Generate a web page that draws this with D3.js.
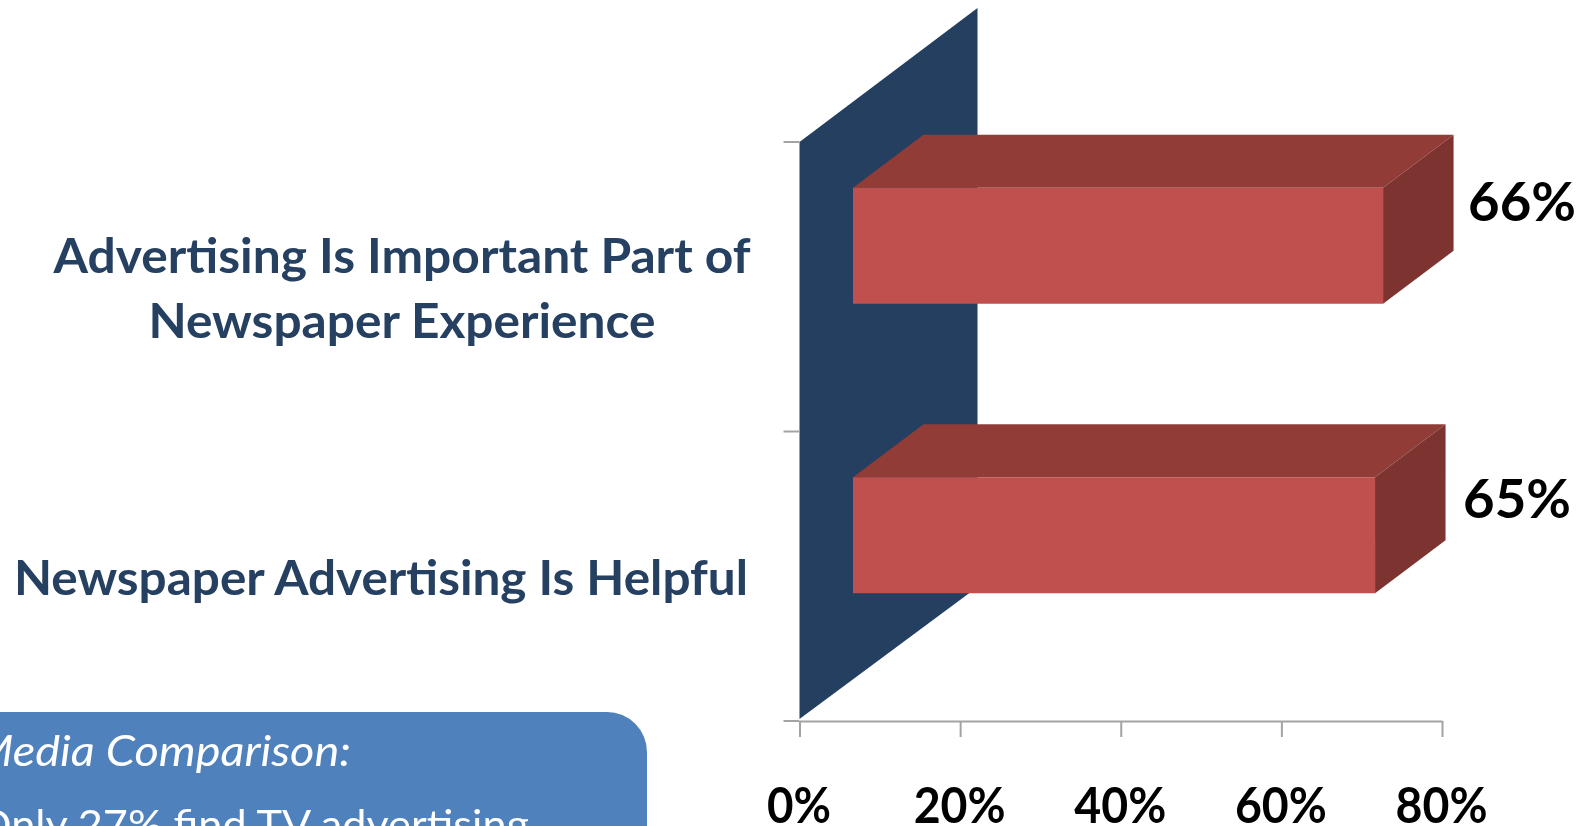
<!DOCTYPE html>
<html><head><meta charset="utf-8">
<script src="https://cdn.jsdelivr.net/npm/d3@7"></script>
<style>html,body{margin:0;padding:0;background:#fff;overflow:hidden}svg{display:block;filter:blur(.6px)}text{font-family:Lato,"Open Sans",sans-serif}</style>
</head><body><svg id="c" width="1587" height="826"></svg>
<script>
const categories = ["Advertising Is Important Part of|Newspaper Experience", "Newspaper Advertising Is Helpful"];
const values = [66, 65];
const xTickValues = [0, 20, 40, 60, 80];
const calloutLines = ["Media Comparison:", "Only 27% find TV advertising"];

const svg = d3.select("#c");
const x = d3.scaleLinear().domain([0, 80]).range([799.5, 1442]);
const y = d3.scaleBand().domain(categories).range([142, 721]);
const depthX = 70.5, depthY = 53, wallDX = 178, wallDY = 134;
const barLeft = 853, barH = 116, barOffset = 99;
const C = {wall:"#243f60", front:"#c0504d", top:"#923c38", side:"#7d3330", axis:"#a3a3a3", cat:"#254061", box:"#4f81bd"};
const pts = a => a.map(p => p.join(",")).join(" ");

// callout
svg.append("rect").attr("x", -60).attr("y", 712).attr("width", 707).attr("height", 200).attr("rx", 40).attr("fill", C.box);
const cl = svg.append("g").attr("fill", "#fff").attr("text-anchor", "end");
cl.append("text").attr("x", 351).attr("y", 766).attr("font-size", 43).attr("font-style", "italic")
  .attr("textLength", 378).attr("lengthAdjust", "spacingAndGlyphs").text(calloutLines[0]);
cl.append("text").attr("x", 529).attr("y", 839).attr("font-size", 41)
  .attr("textLength", 552).attr("lengthAdjust", "spacingAndGlyphs").text(calloutLines[1]);

// wall
svg.append("polygon").attr("fill", C.wall).attr("points", pts([
  [x(0), y.range()[0]], [x(0) + wallDX, y.range()[0] - wallDY],
  [x(0) + wallDX, y.range()[1] - wallDY], [x(0), y.range()[1] - 2]]));

// x axis
const xAxis = svg.append("g").attr("transform", "translate(0,721)")
  .call(d3.axisBottom(x).tickValues(xTickValues).tickFormat(d => d + "%").tickSize(16).tickSizeOuter(0).tickPadding(47));
xAxis.selectAll("path,line").attr("stroke", C.axis).attr("stroke-width", 2);
xAxis.selectAll("text").attr("font-size", 49).attr("font-weight", 700).attr("fill", "#000").attr("font-family", "Lato")
  .attr("dy", 0).attr("y", 102).attr("x", -1).attr("textLength", d => d === 0 ? 64 : 92).attr("lengthAdjust", "spacingAndGlyphs");

// y ticks at band edges
const yEdges = categories.map(c => y(c)).concat(y.range()[1]);
svg.append("g").selectAll("line").data(yEdges).join("line")
  .attr("x1", x(0) - 16).attr("x2", x(0)).attr("y1", d => d).attr("y2", d => d)
  .attr("stroke", C.axis).attr("stroke-width", 2);

// bars
const bars = svg.append("g").selectAll("g").data(categories.map((c, i) => ({c, v: values[i]}))).join("g");
const by = d => y(d.c) + y.bandwidth() / 2 - barOffset;
const bw = d => x(d.v) - x(0);
bars.append("polygon").attr("fill", C.top).attr("points", d => pts([
  [barLeft, by(d)], [barLeft + depthX, by(d) - depthY], [barLeft + bw(d) + depthX, by(d) - depthY], [barLeft + bw(d), by(d)]]));
bars.append("polygon").attr("fill", C.side).attr("points", d => pts([
  [barLeft + bw(d), by(d)], [barLeft + bw(d) + depthX, by(d) - depthY],
  [barLeft + bw(d) + depthX, by(d) - depthY + barH], [barLeft + bw(d), by(d) + barH]]));
bars.append("rect").attr("fill", C.front).attr("x", barLeft).attr("y", by).attr("width", bw).attr("height", barH);
bars.append("text").attr("x", d => barLeft + bw(d) + depthX + (d.v === 65 ? 17.5 : 14.5))
  .attr("y", d => by(d) + (d.v === 65 ? 41 : 33))
  .attr("font-size", 54).attr("font-weight", 700).attr("fill", "#000")
  .attr("textLength", 108).attr("lengthAdjust", "spacingAndGlyphs").text(d => d.v + "%");

// category labels
const catG = svg.append("g").attr("fill", C.cat).attr("font-size", 47).attr("font-weight", 700).attr("text-anchor", "middle");
const catFit = [[697, 507], [734]];
const catCx = [402, 381];
categories.forEach((c, i) => {
  const parts = c.split("|");
  const base = y(c) + y.bandwidth() / 2 + (parts.length > 1 ? -14 : 19);
  parts.forEach((p, j) => catG.append("text").attr("x", catCx[i]).attr("y", base + j * 65)
    .attr("textLength", catFit[i][j]).attr("lengthAdjust", "spacingAndGlyphs").text(p));
});
</script></body></html>
